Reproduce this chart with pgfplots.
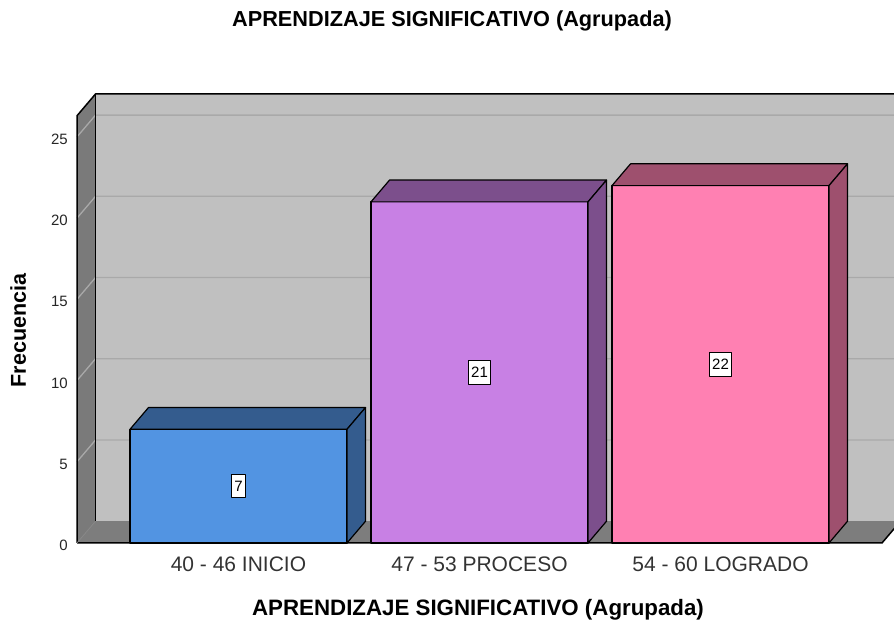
\documentclass[border=0pt]{standalone}
\usepackage{fontspec}
\setmainfont{Liberation Sans}
\usepackage{pgfplots}
\pgfplotsset{compat=1.18}
\definecolor{backwall}{HTML}{C0C0C0}
\definecolor{sidewall}{HTML}{7A7A7A}
\definecolor{floorc}{HTML}{7D7D7D}
\definecolor{gridc}{HTML}{A9A9A9}
\definecolor{bluef}{HTML}{5294E2}
\definecolor{blues}{HTML}{345C8E}
\definecolor{purpf}{HTML}{C880E4}
\definecolor{purps}{HTML}{7C4F8C}
\definecolor{pinkf}{HTML}{FF80B2}
\definecolor{pinks}{HTML}{9E506E}
\begin{document}
\begin{tikzpicture}
\path[use as bounding box] (0pt,0pt) rectangle (894pt,623pt);
\begin{axis}[
  at={(77pt,80pt)}, anchor=south west,
  scale only axis, width=817pt, height=449pt,
  xmin=-0.6701, xmax=2.7199, ymin=0, ymax=27.64,
  clip=false,
  axis line style={draw=none},
  major tick length=0pt,
  ytick={0,5,10,15,20,25},
  xtick={0,1,2},
  xticklabels={40 - 46 INICIO, 47 - 53 PROCESO, 54 - 60 LOGRADO},
  /pgf/number format/assume math mode=true,
  yticklabel style={font=\fontsize{15}{18}\selectfont, anchor=east, inner sep=0pt, xshift=-9pt, yshift=-2.5pt, text=black!85},
  xticklabel style={font=\fontsize{21}{25}\selectfont, anchor=north, inner sep=0pt, yshift=-14pt, text=black!80},
  every axis plot/.append style={line join=round, mark=none},
]
% back wall
\addplot[fill=backwall, draw=none] coordinates {(-0.5933,1.34) (-0.5933,27.64) (2.80,27.64) (2.80,1.34)} -- cycle;
% left wall
\addplot[fill=sidewall, draw=none] coordinates {(-0.6701,0) (-0.5933,1.34) (-0.5933,27.64) (-0.6701,26.3)} -- cycle;
% floor
\addplot[fill=floorc, draw=none] coordinates {(-0.6701,0) (-0.5933,1.34) (2.7468,1.34) (2.670,0)} -- cycle;
% gridlines
\pgfplotsinvokeforeach{5,10,15,20,25}{
  \draw[gridc, line width=1.3pt] (axis cs:-0.6701,#1) -- (axis cs:-0.5933,{#1+1.34}) -- (axis cs:2.80,{#1+1.34});
}
% outlines
\draw[black, line width=1.5pt, line join=round] (axis cs:-0.6701,0) -- (axis cs:-0.6701,26.3) -- (axis cs:-0.5933,27.64) -- (axis cs:2.80,27.64);
\draw[black, line width=1.3pt] (axis cs:-0.5933,1.34) -- (axis cs:-0.5933,27.64);
\draw[black, line width=1.5pt, line join=round] (axis cs:-0.6701,0) -- (axis cs:2.670,0) -- (axis cs:2.7468,1.34);
\draw[gridc!80!black, line width=0.8pt] (axis cs:-0.6701,0) -- (axis cs:-0.5933,1.34);
% bar 1 (7)
\addplot[fill=bluef, draw=black, line width=1.2pt] coordinates {(-0.4502,0) (-0.4502,7) (0.4502,7) (0.4502,0)} -- cycle;
\addplot[fill=blues, draw=black, line width=1.2pt] coordinates {(-0.4502,7) (-0.3734,8.34) (0.5270,8.34) (0.4502,7)} -- cycle;
\addplot[fill=blues, draw=black, line width=1.2pt] coordinates {(0.4502,0) (0.5270,1.34) (0.5270,8.34) (0.4502,7)} -- cycle;
% bar 2 (21)
\addplot[fill=purpf, draw=black, line width=1.2pt] coordinates {(0.5498,0) (0.5498,21) (1.4502,21) (1.4502,0)} -- cycle;
\addplot[fill=purps, draw=black, line width=1.2pt] coordinates {(0.5498,21) (0.6266,22.34) (1.5270,22.34) (1.4502,21)} -- cycle;
\addplot[fill=purps, draw=black, line width=1.2pt] coordinates {(1.4502,0) (1.5270,1.34) (1.5270,22.34) (1.4502,21)} -- cycle;
% bar 3 (22)
\addplot[fill=pinkf, draw=black, line width=1.2pt] coordinates {(1.5498,0) (1.5498,22) (2.4502,22) (2.4502,0)} -- cycle;
\addplot[fill=pinks, draw=black, line width=1.2pt] coordinates {(1.5498,22) (1.6266,23.34) (2.5270,23.34) (2.4502,22)} -- cycle;
\addplot[fill=pinks, draw=black, line width=1.2pt] coordinates {(2.4502,0) (2.5270,1.34) (2.5270,23.34) (2.4502,22)} -- cycle;
% value labels
\addplot[draw=none, nodes near coords, point meta=explicit symbolic,
  nodes near coords style={anchor=center, fill=white, draw=black, line width=0.9pt, inner xsep=3pt, inner ysep=6.5pt, font=\fontsize{15}{18}\selectfont, text=black}]
  coordinates {(0,3.5)[7] (1,10.5)[21] (2,11)[22]};
\end{axis}
\node[font=\fontsize{21.7}{26}\selectfont\bfseries] at (452pt,602.5pt) {APRENDIZAJE SIGNIFICATIVO (Agrupada)};
\node[font=\fontsize{22.3}{26}\selectfont\bfseries] at (478pt,13.6pt) {APRENDIZAJE SIGNIFICATIVO (Agrupada)};
\node[rotate=90, font=\fontsize{21.5}{26}\selectfont\bfseries] at (18.3pt,292.5pt) {Frecuencia};
\end{tikzpicture}
\end{document}
